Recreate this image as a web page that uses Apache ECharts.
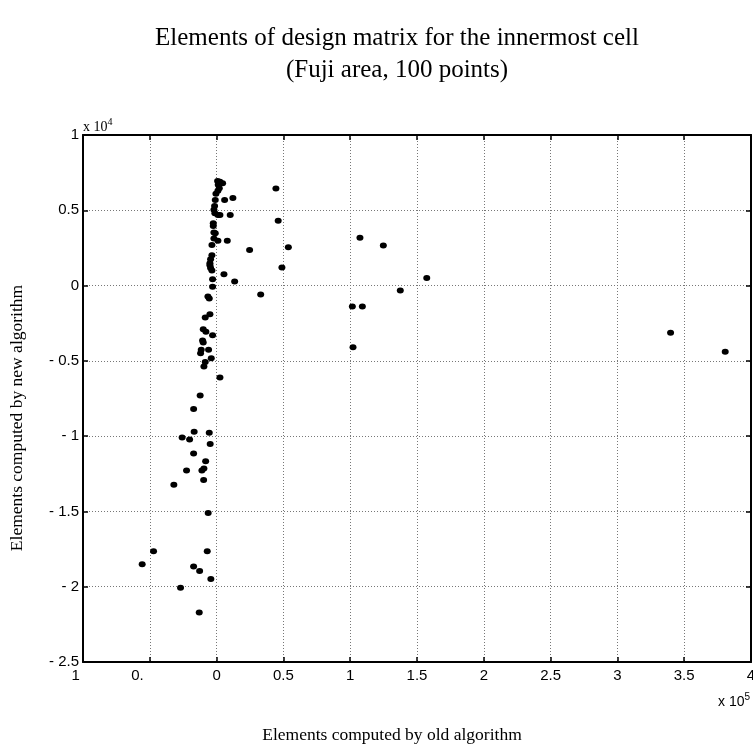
<!DOCTYPE html>
<html>
<head>
<meta charset="utf-8">
<script src="https://cdn.jsdelivr.net/npm/echarts@6/dist/echarts.min.js"></script>
<style>html,body{margin:0;padding:0;background:#fff;}#c{width:753px;height:747px;}</style>
</head>
<body>
<div id="c"></div>
<script>
// x values in units of 1e5, y values in units of 1e4
var xOld = [0.0075,0.025,0.045,0.012,0.02,0.01,-0.005,-0.01,0.06,0.122,0.444,-0.015,-0.02,-0.013,0.01,0.025,0.102,-0.025,-0.025,0.461,-0.02,-0.01,-0.02,0.01,0.08,-0.035,0.247,0.537,-0.035,-0.045,-0.05,-0.05,-0.045,-0.035,0.055,0.489,-0.03,0.135,-0.03,-0.065,-0.055,0.33,-0.05,-0.085,-0.1,-0.08,-0.03,-0.105,-0.1,-0.06,-0.115,-0.12,-0.04,-0.085,-0.095,0.025,-0.123,-0.172,-0.168,-0.055,-0.258,-0.202,-0.048,-0.172,-0.082,-0.225,-0.11,-0.095,-0.097,-0.32,-0.063,-0.472,-0.07,-0.557,-0.172,-0.127,-0.043,-0.27,-0.13,1.073,1.248,1.573,1.375,1.016,1.091,1.021,3.398,3.807];
var yNew = [0.695,0.689,0.68,0.669,0.647,0.629,0.609,0.569,0.569,0.582,0.644,0.529,0.503,0.481,0.469,0.469,0.469,0.414,0.396,0.43,0.352,0.348,0.312,0.297,0.297,0.27,0.237,0.255,0.202,0.175,0.149,0.135,0.116,0.1,0.076,0.12,0.042,0.027,-0.007,-0.073,-0.086,-0.06,-0.19,-0.212,-0.29,-0.307,-0.33,-0.365,-0.378,-0.427,-0.427,-0.449,-0.482,-0.507,-0.538,-0.611,-0.73,-0.819,-0.971,-0.978,-1.009,-1.022,-1.053,-1.115,-1.166,-1.228,-1.228,-1.215,-1.292,-1.323,-1.511,-1.764,-1.764,-1.85,-1.866,-1.896,-1.948,-2.007,-2.171,0.317,0.266,0.051,-0.033,-0.139,-0.139,-0.409,-0.314,-0.44];
var xTicks = {min: -1, max: 4, step: 0.5};
var yTicks = {min: -2.5, max: 1, step: 0.5};
var titleLines = ['Elements of design matrix for the innermost cell', '(Fuji area, 100 points)'];
var xName = 'Elements computed by old algorithm';
var yName = 'Elements computed by new algorithm';

var pts = xOld.map(function (x, i) { return [x, yNew[i]]; });
var chart = echarts.init(document.getElementById('c'), null, {renderer: 'canvas'});
var sans = 'Liberation Sans';
var serif = 'Liberation Serif';
var lineStyle = {color: '#000', width: 2};
var gridLine = {show: true, lineStyle: {color: '#777', type: [1, 2], width: 1}};

function xFmt(v) {
  if (Math.abs(v + 1) < 1e-9) return '{v|1}{h| }';
  if (Math.abs(v + 0.5) < 1e-9) return '{v|0.}{g| }';
  return '{v|' + (+v.toFixed(2)) + '}';
}
function yFmt(v) {
  if (v < 0) return '- ' + (+(-v).toFixed(2));
  return String(+v.toFixed(2));
}

chart.setOption({
  animation: false,
  backgroundColor: '#fff',
  grid: {left: 83, right: 2, top: 135, bottom: 85, containLabel: false, outerBoundsMode: 'none'},
  xAxis: [{
    type: 'value', min: xTicks.min, max: xTicks.max, interval: xTicks.step, position: 'bottom',
    axisLine: {show: true, onZero: false, lineStyle: lineStyle},
    axisTick: {show: true, inside: true, length: 5, lineStyle: {color: '#000', width: 1.5}},
    splitLine: gridLine,
    axisLabel: {
      margin: 6, color: '#000', fontFamily: sans, fontSize: 15, hideOverlap: false,
      formatter: xFmt,
      rich: {
        v: {fontFamily: sans, fontSize: 15, color: '#000'},
        h: {width: 14.6, fontSize: 15, color: 'rgba(0,0,0,0)'},
        g: {width: 24.6, fontSize: 15, color: 'rgba(0,0,0,0)'}
      }
    }
  }, {
    type: 'value', min: xTicks.min, max: xTicks.max, interval: xTicks.step, position: 'top',
    axisLine: {show: true, onZero: false, lineStyle: lineStyle},
    axisTick: {show: true, inside: true, length: 5, lineStyle: {color: '#000', width: 1.5}},
    splitLine: {show: false}, axisLabel: {show: false}
  }],
  yAxis: [{
    type: 'value', min: yTicks.min, max: yTicks.max, interval: yTicks.step, position: 'left',
    axisLine: {show: true, onZero: false, lineStyle: lineStyle},
    axisTick: {show: true, inside: true, length: 5, lineStyle: {color: '#000', width: 1.5}},
    splitLine: gridLine,
    axisLabel: {margin: 4, color: '#000', fontFamily: sans, fontSize: 15, formatter: yFmt}
  }, {
    type: 'value', min: yTicks.min, max: yTicks.max, interval: yTicks.step, position: 'right',
    axisLine: {show: true, onZero: false, lineStyle: lineStyle},
    axisTick: {show: true, inside: true, length: 5, lineStyle: {color: '#000', width: 1.5}},
    splitLine: {show: false}, axisLabel: {show: false}
  }],
  series: [{
    type: 'scatter', xAxisIndex: 0, yAxisIndex: 0, data: pts,
    symbol: 'circle', symbolSize: [7, 6],
    itemStyle: {color: '#000', opacity: 1}
  }],
  graphic: [
    {type: 'text', x: 397, y: 38, style: {text: titleLines[0], font: '25px "' + serif + '"', fill: '#000', textAlign: 'center', textVerticalAlign: 'middle'}},
    {type: 'text', x: 397, y: 70, style: {text: titleLines[1], font: '25px "' + serif + '"', fill: '#000', textAlign: 'center', textVerticalAlign: 'middle'}},
    {type: 'text', x: 392, y: 735, style: {text: xName, font: '17.5px "' + serif + '"', fill: '#000', textAlign: 'center', textVerticalAlign: 'middle'}},
    {type: 'text', x: 17, y: 418, rotation: Math.PI / 2, style: {text: yName, font: '17.5px "' + serif + '"', fill: '#000', textAlign: 'center', textVerticalAlign: 'middle'}},
    {type: 'text', x: 83, y: 127, style: {text: 'x 10{s|4}', font: '14px "' + serif + '"', fill: '#000', textVerticalAlign: 'middle',
      rich: {s: {fontSize: 10, fontFamily: serif, padding: [0, 0, 9, 0]}}}},
    {type: 'text', x: 718, y: 702, style: {text: 'x 10{s|5}', font: '14px "' + sans + '"', fill: '#000', textVerticalAlign: 'middle',
      rich: {s: {fontSize: 10, fontFamily: sans, padding: [0, 0, 9, 0]}}}}
  ]
});
</script>
</body>
</html>
